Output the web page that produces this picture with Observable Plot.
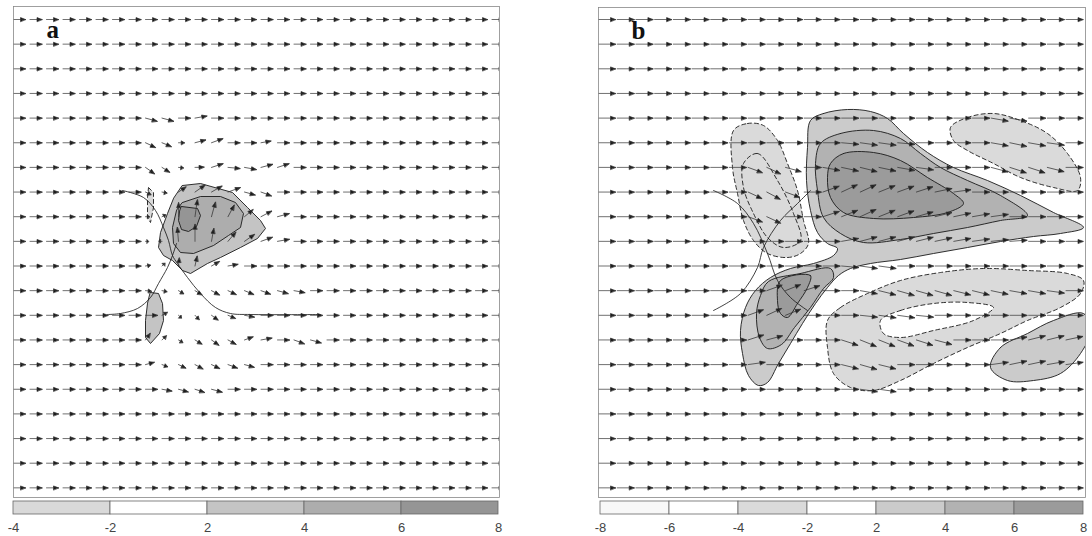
<!DOCTYPE html>
<html><head><meta charset="utf-8">
<script src="https://cdn.jsdelivr.net/npm/d3@7"></script>
<script src="https://cdn.jsdelivr.net/npm/@observablehq/plot@0.6"></script>
<style>
body{margin:0;background:#fff;}
#wrap{position:relative;width:1092px;height:536px;overflow:hidden;background:#fff;}
#wrap > div{position:absolute;}
</style></head><body><div id="wrap">
<div id="pa" style="left:0;top:0"></div>
<div id="pb" style="left:585px;top:0"></div>
<div id="ca" style="left:0;top:496px"></div>
<div id="cb" style="left:585px;top:496px"></div>
</div>
<script>
// ---------- colour bars ----------
const aColorLabels = ["-4","-2","2","4","6","8"];
const aColorFills = ["#d9d9d9","#ffffff","#c4c4c4","#adadad","#959595"];
const bColorLabels = ["-8","-6","-4","-2","2","4","6","8"];
const bColorFills = ["#f8f8f8","#ffffff","#dadada","#ffffff","#cbcbcb","#b2b2b2","#9b9b9b"];

// ---------- wind grid (panel a: 30 x 20, panel b: 26 x 20) ----------
const aNx = 30, aNy = 20, aDx = 16.5, aDy = 24.65, aY0 = 13, aSpeed = 12;
const bNx = 26, bNy = 20, bDx = 18.7, bDy = 24.65, bY0 = 12, bSpeed = 17;
// deviations from uniform westerly flow: [column, row, direction (deg from north), length]
const aWindDev = [
 [8,4,105,12],[9,4,105,12],[11,4,80,12],
 [8,5,115,11],[9,5,112,10],[10,5,90,6],[11,5,75,11],[12,5,70,12],[15,5,80,10],
 [8,6,125,11],[9,6,122,9],[10,6,95,5],[11,6,88,9],[12,6,72,12],[13,6,95,12],[14,6,100,12],[15,6,75,12],[16,6,72,12],
 [8,7,115,6],[9,7,100,5],[10,7,55,9],[11,7,55,12],[12,7,60,12],[13,7,70,13],[14,7,105,11],[15,7,110,11],
 [8,8,90,4],[9,8,60,4],[10,8,0,14],[11,8,8,17],[12,8,15,15],[13,8,28,13],[14,8,50,11],[15,8,62,12],[16,8,75,12],
 [8,9,90,3],[9,9,270,3],[10,9,355,14],[11,9,0,17],[12,9,10,13],[13,9,40,12],[14,9,55,12],[15,9,70,12],[16,9,80,12],
 [8,10,80,5],[9,10,45,4],[10,10,5,8],[11,10,12,10],[12,10,60,9],[13,10,80,10],
 [8,11,95,6],[9,11,100,5],[10,11,120,6],[11,11,120,8],[12,11,118,9],[13,11,115,9],[14,11,112,10],[15,11,110,10],[16,11,105,11],[17,11,100,11],
 [9,12,60,6],[10,12,130,4],[11,12,135,6],[12,12,125,8],[13,12,112,8],[14,12,100,10],
 [8,13,35,8],[9,13,45,6],[10,13,120,5],[11,13,120,8],[12,13,125,9],[13,13,118,9],[14,13,70,9],[15,13,80,11],[17,13,110,11],[18,13,105,11],
 [8,14,75,9],[9,14,110,6],[10,14,115,8],[11,14,118,9],[12,14,115,9],[13,14,110,10],[14,14,105,10],
 [9,15,100,10],[10,15,105,10],[11,15,108,10],[12,15,105,11]
];
const bWindDev = [
 [21,4,100,17],[22,4,100,17],
 [13,5,95,17],[14,5,98,17],[15,5,98,17],[16,5,95,17],[21,5,100,17],[22,5,102,17],[23,5,100,17],[24,5,98,17],
 [8,6,110,15],[9,6,115,15],[10,6,105,16],[12,6,100,17],[13,6,102,17],[14,6,104,17],[15,6,102,17],[16,6,100,17],[17,6,98,17],[21,6,105,17],[22,6,108,17],[23,6,108,17],[24,6,104,17],
 [8,7,115,15],[9,7,118,15],[10,7,110,15],[12,7,70,17],[13,7,65,17],[14,7,65,17],[15,7,68,17],[16,7,70,17],[17,7,72,17],[18,7,78,17],[19,7,82,17],
 [8,8,110,15],[9,8,115,15],[12,8,72,17],[13,8,68,17],[14,8,65,17],[15,8,68,17],[16,8,70,17],[17,8,74,17],[18,8,76,17],[19,8,78,17],[20,8,80,17],[21,8,82,17],
 [13,9,80,17],[14,9,75,17],[15,9,75,17],[16,9,75,17],[17,9,76,17],[18,9,78,17],[19,9,80,17],[20,9,82,17],[21,9,84,17],[22,9,86,17],
 [13,10,95,17],[14,10,98,17],[15,10,98,17],
 [9,11,70,16],[10,11,68,16],[11,11,72,16],[14,11,100,17],[15,11,104,17],[16,11,106,17],[17,11,106,17],[18,11,106,17],[19,11,104,17],[20,11,104,17],[21,11,102,17],[22,11,100,17],[23,11,100,17],[24,11,98,17],
 [8,12,70,16],[9,12,65,16],[10,12,68,16],[14,12,96,17],[15,12,98,17],[16,12,98,17],[17,12,96,17],
 [8,13,72,16],[9,13,75,16],[13,13,108,17],[14,13,112,17],[15,13,112,17],[16,13,110,17],[17,13,108,17],[18,13,105,17],[22,13,80,17],[23,13,76,17],[24,13,76,17],[25,13,78,17],
 [8,14,82,17],[13,14,104,17],[14,14,106,17],[15,14,104,17],[21,14,82,17],[22,14,78,17],[23,14,78,17],[24,14,80,17],[25,14,82,17],
 [14,15,98,17],[15,15,98,17]
];

// ---------- contour regions, panel a (domain units) ----------
const aPos2 = [[169,179],[187,177],[219,186],[234,201],[247,214],[252,222],[244,232],[227,241],[207,251],[194,257],[177,267],[169,264],[159,254],[150,249],[145,241],[147,226],[154,207],[160,192]];
const aPos4 = [[169,196],[187,190],[207,190],[222,196],[230,207],[227,221],[215,229],[200,239],[180,247],[167,246],[160,237],[159,221],[163,204]];
const aPos6 = [[168,200],[184,202],[187,209],[183,220],[175,225],[168,223],[165,214],[166,205]];
const aPosSW = [[137,286],[145,287],[149,297],[150,314],[146,327],[137,337],[132,331],[132,314],[134,297]];
const aNeg2 = [[135,181],[140,186],[140,201],[137,216],[134,211],[134,191]];
const aLine1 = [[109,184],[130,191],[142,204],[150,221],[155,234],[159,249],[164,257],[174,271],[187,287],[202,301],[217,307],[237,308],[307,308]];
const aLine2 = [[94,308],[107,307],[124,302],[137,291],[145,277],[154,261],[159,249],[163,237]];

// ---------- contour regions, panel b ----------
const bPos2 = [[212,113],[225,106],[249,102],[272,104],[289,111],[305,126],[329,145],[355,160],[389,173],[422,188],[455,205],[485,220],[462,226],[435,229],[402,234],[369,240],[335,246],[302,252],[272,256],[252,261],[240,268],[229,280],[217,296],[204,316],[192,336],[180,356],[169,375],[160,378],[150,368],[144,346],[142,323],[147,300],[157,283],[172,270],[192,261],[215,256],[235,248],[239,241],[229,236],[219,225],[212,203],[208,173],[209,140]];
const bPos4 = [[222,136],[242,126],[275,123],[302,131],[322,146],[342,160],[369,173],[402,188],[429,208],[402,213],[369,220],[335,226],[302,232],[265,235],[242,226],[225,210],[219,183],[217,156]];
const bPos6 = [[232,156],[245,146],[275,145],[302,153],[329,170],[355,186],[365,196],[349,205],[315,210],[275,211],[245,205],[232,190],[229,170]];
const bPosW4 = [[170,274],[202,266],[232,261],[235,270],[225,281],[212,300],[196,320],[183,337],[169,341],[161,330],[158,306],[162,288]];
const bPosW6 = [[182,273],[212,268],[209,280],[199,296],[189,310],[182,306],[179,293]];
const bPosSE = [[392,360],[402,340],[429,326],[455,313],[485,306],[492,323],[482,346],[462,366],[435,373],[409,373]];
const bNeg1 = [[135,123],[149,116],[165,118],[179,133],[189,156],[199,183],[205,213],[210,236],[202,246],[189,250],[169,246],[155,233],[145,213],[139,186],[134,160]];
const bNeg1In = [[145,156],[159,146],[179,173],[195,206],[202,233],[185,240],[169,230],[155,206],[145,180]];
const bNeg2 = [[352,120],[369,110],[395,106],[422,113],[449,126],[469,146],[482,170],[479,183],[455,180],[422,170],[395,156],[369,143],[355,133]];
const bNeg3 = [[229,313],[242,300],[269,286],[302,273],[342,265],[385,261],[429,263],[469,266],[485,273],[482,286],[462,300],[429,313],[402,326],[369,340],[335,356],[302,373],[275,383],[252,380],[235,366],[229,340]];
const bNeg3In = [[282,313],[302,303],[335,296],[369,295],[395,300],[375,313],[335,323],[302,330],[285,326]];
const bLine1 = [[115,183],[139,196],[155,216],[169,246],[179,273],[192,290],[209,303]];
const bLine2 = [[115,303],[142,286],[159,260],[165,240],[182,213],[199,196],[212,183]];

// ---------- helpers ----------
function field(nx, ny, dx, y0, dy, speed, dev) {
  const m = new Map(dev.map(d => [d[0] + "," + d[1], d]));
  const out = [];
  for (let j = 0; j < ny; j++) for (let i = 0; i < nx; i++) {
    const d = m.get(i + "," + j);
    out.push({x: i * dx, y: y0 + j * dy, rot: d ? d[2] : 90, len: d ? d[3] : speed});
  }
  return out;
}
const arrowShape = {
  draw(ctx, l) {
    ctx.moveTo(0, 0); ctx.lineTo(0, -l);
    const h = Math.min(5, l * 0.55), w = 1.9;
    ctx.moveTo(0, -l); ctx.lineTo(-w, -l + h); ctx.lineTo(w, -l + h); ctx.closePath();
  }
};
function region(pts, fill, dashed, curve) {
  return Plot.line(pts, {x: d => d[0], y: d => d[1], curve, fill, stroke: "#1a1a1a",
    strokeWidth: 0.9, strokeDasharray: dashed ? "4,3" : "none", clip: true});
}
function thin(pts) {
  return Plot.line(pts, {x: d => d[0], y: d => d[1], curve: "catmull-rom", stroke: "#111", strokeWidth: 0.8, clip: true});
}
function label(t) {
  return Plot.text([t], {x: 33, y: 31, text: d => d, textAnchor: "start", lineAnchor: "bottom",
    fontFamily: "Liberation Serif", fontWeight: "bold", fontSize: 25, fill: "#111"});
}
function vectors(data) {
  return Plot.vector(data, {x: "x", y: "y", rotate: "rot", length: "len", anchor: "start",
    shape: arrowShape, stroke: "#333", fill: "#111", strokeWidth: 0.7, clip: true});
}

// ---------- panel a ----------
const ca = "linear-closed";
document.getElementById("pa").append(Plot.plot({
  width: 520, height: 500, marginLeft: 13, marginRight: 21, marginTop: 6, marginBottom: 3,
  x: {domain: [0, 486], axis: null}, y: {domain: [0, 491], reverse: true, axis: null},
  length: {type: "identity"},
  marks: [
    region(aNeg2, "#dadada", true, ca),
    region(aPosSW, "#c4c4c4", false, ca),
    region(aPos2, "#c4c4c4", false, ca),
    region(aPos4, "#adadad", false, ca),
    region(aPos6, "#959595", false, ca),
    thin(aLine1), thin(aLine2),
    vectors(field(aNx, aNy, aDx, aY0, aDy, aSpeed, aWindDev)),
    Plot.frame({stroke: "#888", strokeWidth: 0.8}),
    label("a")
  ]
}));

// ---------- panel b ----------
const cb = "catmull-rom-closed";
document.getElementById("pb").append(Plot.plot({
  width: 507, height: 500, marginLeft: 13, marginRight: 7, marginTop: 7, marginBottom: 3,
  x: {domain: [0, 487], axis: null}, y: {domain: [0, 490], reverse: true, axis: null},
  length: {type: "identity"},
  marks: [
    region(bNeg1, "#dadada", true, cb),
    region(bNeg1In, "none", true, cb),
    region(bNeg2, "#dadada", true, cb),
    region(bNeg3, "#dadada", true, cb),
    region(bNeg3In, "#ffffff", true, cb),
    region(bPos2, "#cbcbcb", false, cb),
    region(bPos4, "#b2b2b2", false, cb),
    region(bPos6, "#9b9b9b", false, cb),
    region(bPosW4, "#b2b2b2", false, cb),
    region(bPosW6, "#9b9b9b", false, cb),
    region(bPosSE, "#cbcbcb", false, cb),
    thin(bLine1), thin(bLine2),
    vectors(field(bNx, bNy, bDx, bY0, bDy, bSpeed, bWindDev)),
    Plot.frame({stroke: "#888", strokeWidth: 0.8}),
    label("b")
  ]
}));

// ---------- colour bars ----------
function colorbar(labels, fills, width, ml, mr) {
  return Plot.plot({
    width, height: 40, marginLeft: ml, marginRight: mr, marginTop: 5, marginBottom: 22,
    x: {domain: [0, fills.length], axis: null}, y: {domain: [0, 1], axis: null},
    color: {type: "identity"},
    marks: [
      Plot.rect(fills, {x1: (d, i) => i, x2: (d, i) => i + 1, y1: 0, y2: 1, fill: d => d, stroke: "#666", strokeWidth: 0.8}),
      Plot.axisX(d3.range(labels.length), {tickFormat: i => labels[i], tickSize: 0, tickPadding: 8,
        fontSize: 13, fontFamily: "Liberation Sans", fill: "#444"})
    ]
  });
}
document.getElementById("ca").append(colorbar(aColorLabels, aColorFills, 520, 13, 22));
document.getElementById("cb").append(colorbar(bColorLabels, bColorFills, 507, 15, 9));
</script></body></html>
